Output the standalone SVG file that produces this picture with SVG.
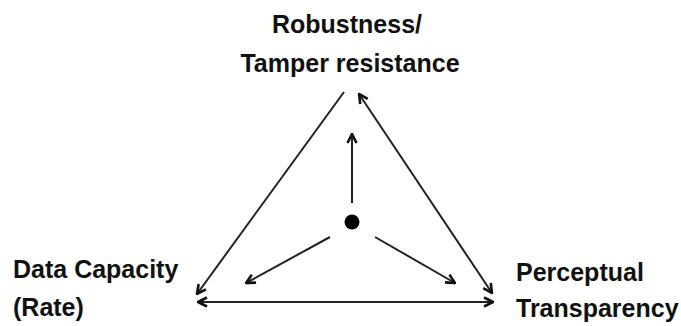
<svg xmlns="http://www.w3.org/2000/svg" width="681" height="326" viewBox="0 0 681 326">
<style>
text{font-family:"Liberation Sans",Arial,sans-serif;font-weight:bold;font-size:25px;fill:#111}
.c line{stroke:#222;stroke-width:2;fill:none}
</style>
<defs>
<marker id="a" viewBox="0 0 12 12" refX="11" refY="6" markerWidth="12" markerHeight="12" markerUnits="userSpaceOnUse" orient="auto-start-reverse">
<path d="M2,1.5 L11,6 L2,10.5" fill="none" stroke="#111" stroke-width="2.6" stroke-linejoin="miter"/>
</marker>
</defs>
<rect width="681" height="326" fill="#fff"/>
<g id="n-robust"><text x="347" y="33" text-anchor="middle">Robustness/</text><text x="350" y="72" text-anchor="middle">Tamper resistance</text></g>
<g id="n-capacity"><text x="13" y="278">Data Capacity</text><text x="13" y="316">(Rate)</text></g>
<g id="n-transp"><text x="516" y="281">Perceptual</text><text x="516" y="317">Transparency</text></g>
<g id="n-center"><circle cx="352" cy="222" r="7.5" fill="#000"/></g>
<g class="c" id="connectors">
<line x1="344" y1="92" x2="197" y2="294" marker-end="url(#a)"/>
<line x1="359" y1="94" x2="492" y2="293" marker-start="url(#a)" marker-end="url(#a)"/>
<line x1="198" y1="302" x2="493" y2="302" marker-start="url(#a)" marker-end="url(#a)"/>
<line x1="352" y1="203" x2="352" y2="134" marker-end="url(#a)"/>
<line x1="330" y1="237" x2="246" y2="283" marker-end="url(#a)"/>
<line x1="375" y1="237" x2="455" y2="283" marker-end="url(#a)"/>
</g>
</svg>
